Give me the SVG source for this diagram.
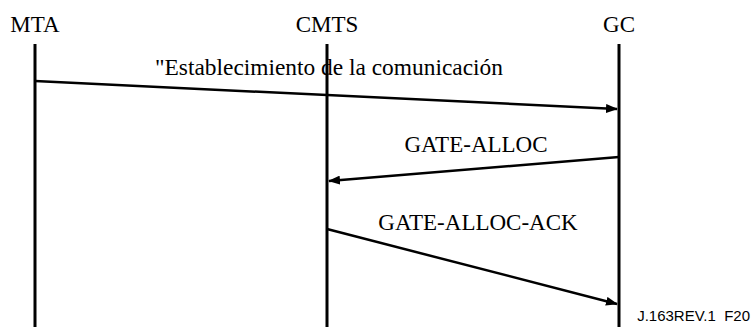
<svg xmlns="http://www.w3.org/2000/svg" width="752" height="327" viewBox="0 0 752 327">
<style>
.t{font-family:'Liberation Serif','Times New Roman',serif;font-size:23px;fill:#000}
.f{font-family:'Liberation Sans',Arial,sans-serif;font-size:15px;fill:#000;white-space:pre}
.life{stroke:#000;stroke-width:3}
.msg{stroke:#000;stroke-width:2.5;fill:none;marker-end:url(#ah)}
</style>
<defs>
<marker id="ah" markerWidth="12" markerHeight="9" refX="11" refY="4.5" orient="auto" markerUnits="userSpaceOnUse" viewBox="0 0 12 9">
<path d="M0,0 L12,4.5 L0,9 Z" fill="#000"/>
</marker>
</defs>
<rect width="752" height="327" fill="#fff"/>
<g id="MTA">
<text class="t" x="35" y="32" text-anchor="middle">MTA</text>
<line class="life" x1="35" y1="44" x2="35" y2="327"/>
</g>
<g id="CMTS">
<text class="t" x="327" y="32" text-anchor="middle">CMTS</text>
<line class="life" x1="327" y1="44" x2="327" y2="327"/>
</g>
<g id="GC">
<text class="t" x="619" y="32" text-anchor="middle">GC</text>
<line class="life" x1="619" y1="44" x2="619" y2="327"/>
</g>
<g id="connectors">
<line class="msg" x1="35" y1="81" x2="617" y2="109"/>
<line class="msg" x1="619" y1="157" x2="329" y2="181"/>
<line class="msg" x1="327" y1="229" x2="617" y2="304"/>
</g>
<g id="labels">
<text class="t" x="155" y="75" style="font-size:23.4px">"Establecimiento de la comunicación</text>
<text class="t" x="476" y="152" text-anchor="middle">GATE-ALLOC</text>
<text class="t" x="478" y="230" text-anchor="middle">GATE-ALLOC-ACK</text>
<text class="f" x="750" y="321" text-anchor="end" xml:space="preserve">J.163REV.1  F20</text>
</g>
</svg>
